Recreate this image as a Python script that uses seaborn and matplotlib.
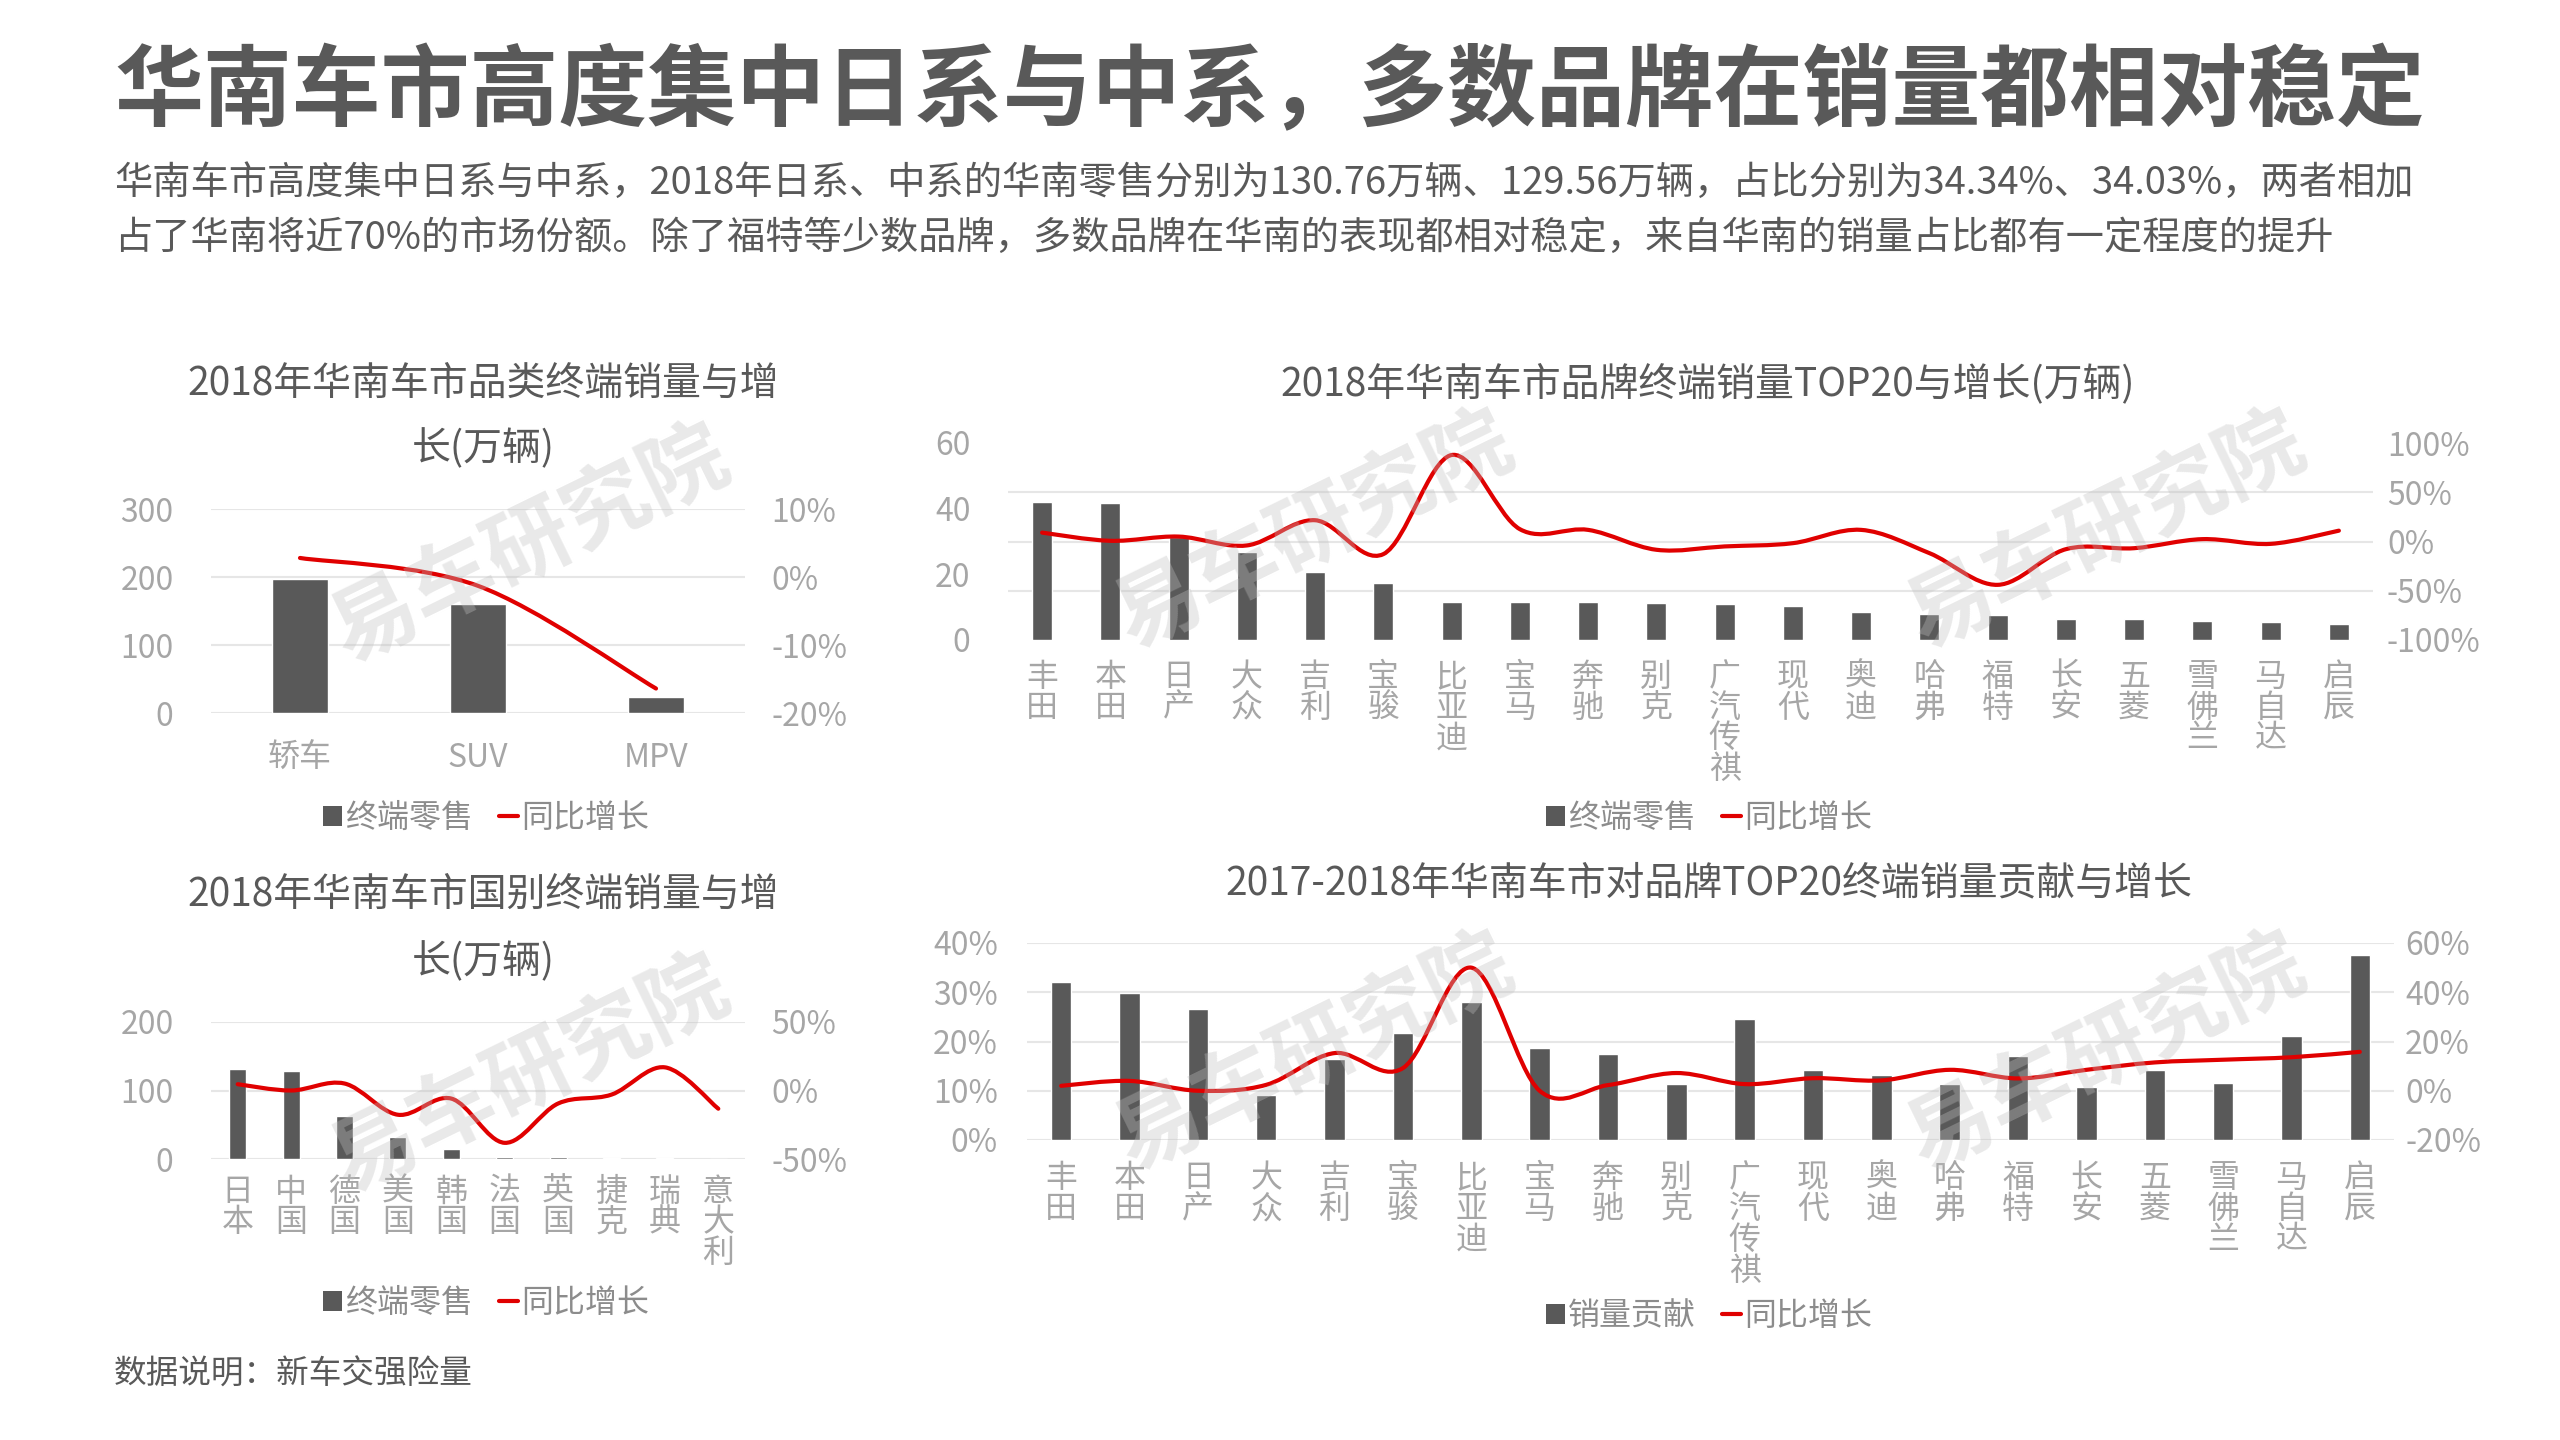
import numpy as np
import pandas as pd
import matplotlib
matplotlib.use('Agg')
import matplotlib.pyplot as plt
import seaborn as sns
from matplotlib.path import Path
from matplotlib.patches import PathPatch, Patch
from matplotlib.lines import Line2D
from matplotlib.ticker import FuncFormatter, MultipleLocator

# 数据
cat_names = ['轿车', 'SUV', 'MPV']
cat_sales = [197, 160, 23]
cat_growth = [2.8, -1.3, -16.4]

brands = ['丰田', '本田', '日产', '大众', '吉利', '宝骏', '比亚迪', '宝马', '奔驰', '别克',
          '广汽传祺', '现代', '奥迪', '哈弗', '福特', '长安', '五菱', '雪佛兰', '马自达', '启辰']
brand_sales = [42.1, 41.7, 31.5, 26.9, 20.7, 17.3, 11.5, 11.5, 11.5, 11.2,
               10.9, 10.4, 8.4, 7.9, 7.5, 6.3, 6.3, 5.9, 5.5, 4.8]
brand_growth = [9, 0.7, 5, -4, 21.6, -12.8, 87.8, 12.5, 11.8, -8.4,
                -5, -1.7, 11.8, -11.8, -44, -7.8, -6.8, 2.4, -2.4, 11]

countries = ['日本', '中国', '德国', '美国', '韩国', '法国', '英国', '捷克', '瑞典', '意大利']
country_sales = [131, 129, 63, 32, 15, 3, 3, 1, 1, 0.5]
country_growth = [4.6, 0, 5.1, -17.7, -5.9, -38.2, -9.5, -3, 16.9, -13.3]

contrib = [32, 29.9, 26.7, 9.1, 16.4, 21.8, 28, 18.6, 17.4, 11.4,
           24.5, 14.2, 13.2, 11.4, 17.1, 10.7, 14.2, 11.6, 21.2, 37.5]
contrib_growth = [2, 4, 0, 2.4, 15.3, 9.2, 50, 0, 2.3, 7.2,
                  2.7, 5.1, 4.2, 8.5, 5, 8.5, 11.5, 12.6, 13.6, 15.8]

BAR = '#595959'
RED = '#E00000'
DARK = '#595959'
TICK = '#a6a6a6'
LEG = '#8c8c8c'
GRID = '#e6e6e6'

sns.set_theme(style='white')
plt.rcParams['font.family'] = ['Noto Sans CJK SC', 'DejaVu Sans']
plt.rcParams['axes.unicode_minus'] = False

fig = plt.figure(figsize=(25.6, 14.4), dpi=100)
fig.patch.set_facecolor('white')


def smooth_line(ax, ys, color=RED, lw=3):
    # 平滑折线（Catmull-Rom 转三次贝塞尔）
    pts = np.column_stack([np.arange(len(ys)), ys]).astype(float)
    ext = np.vstack([pts[0], pts, pts[-1]])
    verts = [pts[0]]
    codes = [Path.MOVETO]
    for i in range(len(pts) - 1):
        p0, p1, p2, p3 = ext[i], ext[i + 1], ext[i + 2], ext[i + 3]
        verts += [p1 + (p2 - p0) / 6, p2 - (p3 - p1) / 6, p2]
        codes += [Path.CURVE4] * 3
    ax.add_patch(PathPatch(Path(verts, codes), fill=False, edgecolor=color,
                           lw=lw, capstyle='round', joinstyle='round'))


def panel(rect, names, bars, growth, ylim, yticks, y2lim, y2ticks,
          left_fmt, pads, labels, bar_w=0.3, grid_minor=None):
    ax = fig.add_axes(rect)
    df = pd.DataFrame({'name': names, 'value': bars})
    sns.barplot(data=df, x='name', y='value', ax=ax, color=BAR, saturation=1,
                width=bar_w, zorder=2)
    ax.set_xlabel('')
    ax.set_ylabel('')
    ax.set_ylim(*ylim)
    ax.set_yticks(yticks)
    ax.yaxis.set_major_formatter(FuncFormatter(left_fmt))
    ax.set_xticks(range(len(names)))
    ax.set_xticklabels(labels, linespacing=0.95)
    if grid_minor is None:
        ax.yaxis.grid(True, color=GRID, lw=1.5)
    else:
        ax.yaxis.set_minor_locator(MultipleLocator(grid_minor))
        ax.yaxis.grid(True, which='minor', color=GRID, lw=1.5)
    ax.set_axisbelow(True)
    for s in ax.spines.values():
        s.set_visible(False)
    ax.tick_params(axis='y', which='both', length=0, pad=pads[0], labelsize=23, labelcolor=TICK)
    ax.tick_params(axis='x', length=0, pad=pads[2], labelsize=23, labelcolor=TICK)

    ax2 = ax.twinx()
    ax2.set_ylim(*y2lim)
    ax2.set_yticks(y2ticks)
    ax2.yaxis.set_major_formatter(FuncFormatter(lambda v, p: f'{v:.0f}%'))
    ax2.grid(False)
    for s in ax2.spines.values():
        s.set_visible(False)
    ax2.tick_params(axis='y', length=0, pad=pads[1], labelsize=23, labelcolor=TICK)
    smooth_line(ax2, growth)
    return ax, ax2


def vert(names):
    return ['\n'.join(n) for n in names]


def legend(x, y, bar_label):
    handles = [Patch(facecolor=BAR, edgecolor='none'),
               Line2D([0], [0], color=RED, lw=3)]
    leg = fig.legend(handles, [bar_label, '同比增长'], loc='center',
                     bbox_to_anchor=(x, y), bbox_transform=fig.transFigure,
                     ncol=2, frameon=False, fontsize=23, handlelength=0.6,
                     handleheight=0.6, handletextpad=0.1, columnspacing=0.8)
    for t in leg.get_texts():
        t.set_color(LEG)


W, H = 2560, 1440


def rect(l, t, r, b):
    return [l / W, 1 - b / H, (r - l) / W, (b - t) / H]


# 品类
panel(rect(211, 509, 745, 713), cat_names, cat_sales, cat_growth,
      (0, 300), [0, 100, 200, 300], (-20, 10), [-20, -10, 0, 10],
      lambda v, p: f'{v:.0f}', (27, 19, 21), cat_names, bar_w=0.315)
# 品牌 TOP20
panel(rect(1008, 443, 2373, 640), brands, brand_sales, brand_growth,
      (0, 60), [0, 20, 40, 60], (-100, 100), [-100, -50, 0, 50, 100],
      lambda v, p: f'{v:.0f}', (27, 10, 15), vert(brands), bar_w=0.29, grid_minor=15)
# 国别
panel(rect(211, 1022, 745, 1159), countries, country_sales, country_growth,
      (0, 200), [0, 100, 200], (-50, 50), [-50, 0, 50],
      lambda v, p: f'{v:.0f}', (27, 19, 12), vert(countries), bar_w=0.32)
# 贡献
panel(rect(1027, 943, 2394, 1140), brands, contrib, contrib_growth,
      (0, 40), [0, 10, 20, 30, 40], (-20, 60), [-20, 0, 20, 40, 60],
      lambda v, p: f'{v:.0f}%', (21, 8, 16), vert(brands), bar_w=0.3)

# 标题与说明
fig.text(114 / W, 1 - 93 / H, '华南车市高度集中日系与中系，多数品牌在销量都相对稳定',
         fontsize=64, fontweight='bold', color=DARK, ha='left', va='center')
fig.text(114 / W, 1 - 183 / H,
         '华南车市高度集中日系与中系，2018年日系、中系的华南零售分别为130.76万辆、129.56万辆，占比分别为34.34%、34.03%，两者相加',
         fontsize=27.5, color=DARK, ha='left', va='center')
fig.text(114 / W, 1 - 238 / H,
         '占了华南将近70%的市场份额。除了福特等少数品牌，多数品牌在华南的表现都相对稳定，来自华南的销量占比都有一定程度的提升',
         fontsize=27.5, color=DARK, ha='left', va='center')

fig.text(483 / W, 1 - 384 / H, '2018年华南车市品类终端销量与增', fontsize=28, color=DARK, ha='center', va='center')
fig.text(483 / W, 1 - 449 / H, '长(万辆)', fontsize=28, color=DARK, ha='center', va='center')
fig.text(1708 / W, 1 - 384 / H, '2018年华南车市品牌终端销量TOP20与增长(万辆)', fontsize=28, color=DARK, ha='center', va='center')
fig.text(483 / W, 1 - 895 / H, '2018年华南车市国别终端销量与增', fontsize=28, color=DARK, ha='center', va='center')
fig.text(483 / W, 1 - 962 / H, '长(万辆)', fontsize=28, color=DARK, ha='center', va='center')
fig.text(1709 / W, 1 - 883 / H, '2017-2018年华南车市对品牌TOP20终端销量贡献与增长', fontsize=28, color=DARK, ha='center', va='center')

legend(486 / W, 1 - 818 / H, '终端零售')
legend(1709 / W, 1 - 818 / H, '终端零售')
legend(486 / W, 1 - 1303 / H, '终端零售')
legend(1709 / W, 1 - 1316 / H, '销量贡献')

fig.text(114 / W, 1 - 1375 / H, '数据说明：新车交强险量', fontsize=23.5, color=DARK, ha='left', va='center')

# 水印
for cx, cy in [(530, 545), (1314, 531), (2106, 531), (530, 1075), (1314, 1053), (2106, 1053)]:
    fig.text(cx / W, 1 - cy / H, '易车研究院', fontsize=62, fontweight='bold',
             color='#c0c0c0', alpha=0.35, rotation=26, ha='center', va='center',
             rotation_mode='anchor', zorder=10)

plt.savefig('out.png', dpi=100, facecolor='white')
